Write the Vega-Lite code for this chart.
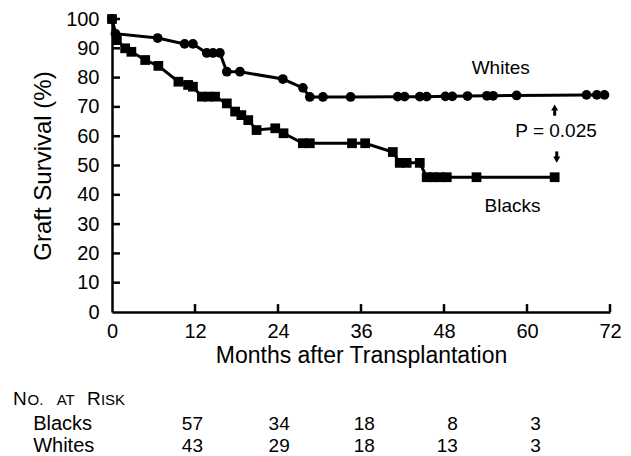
{
  "$schema": "https://vega.github.io/schema/vega-lite/v6.json",
  "width": 498,
  "height": 293,
  "autosize": "none",
  "padding": {"left": 112, "top": 19, "right": 21, "bottom": 144},
  "background": "white",
  "config": {
    "view": {"stroke": null},
    "font": "Liberation Sans",
    "text": {"font": "Liberation Sans", "color": "black"},
    "axis": {"labelOverlap": false, "labelFlush": false, "grid": false}
  },
  "datasets": {
    "km": [
      {"group": "Whites", "month": 0, "surv": 100},
      {"group": "Whites", "month": 0.5, "surv": 95},
      {"group": "Whites", "month": 6.6, "surv": 93.5},
      {"group": "Whites", "month": 10.5, "surv": 91.5},
      {"group": "Whites", "month": 11.7, "surv": 91.5},
      {"group": "Whites", "month": 13.7, "surv": 88.4},
      {"group": "Whites", "month": 14.6, "surv": 88.4},
      {"group": "Whites", "month": 15.6, "surv": 88.4},
      {"group": "Whites", "month": 16.6, "surv": 82},
      {"group": "Whites", "month": 18.5, "surv": 82},
      {"group": "Whites", "month": 24.7, "surv": 79.5},
      {"group": "Whites", "month": 27.6, "surv": 76.5},
      {"group": "Whites", "month": 28.6, "surv": 73.4},
      {"group": "Whites", "month": 30.5, "surv": 73.4},
      {"group": "Whites", "month": 34.5, "surv": 73.4},
      {"group": "Whites", "month": 41.3, "surv": 73.5},
      {"group": "Whites", "month": 42.3, "surv": 73.5},
      {"group": "Whites", "month": 44.5, "surv": 73.5},
      {"group": "Whites", "month": 45.5, "surv": 73.5},
      {"group": "Whites", "month": 48.2, "surv": 73.6},
      {"group": "Whites", "month": 49.2, "surv": 73.6},
      {"group": "Whites", "month": 51.4, "surv": 73.7},
      {"group": "Whites", "month": 54.2, "surv": 73.8},
      {"group": "Whites", "month": 55.1, "surv": 73.8},
      {"group": "Whites", "month": 58.5, "surv": 73.9},
      {"group": "Whites", "month": 68.6, "surv": 74.1},
      {"group": "Whites", "month": 70.1, "surv": 74.1},
      {"group": "Whites", "month": 71.2, "surv": 74.1},
      {"group": "Blacks", "month": 0, "surv": 100},
      {"group": "Blacks", "month": 0.7, "surv": 92.8},
      {"group": "Blacks", "month": 1.9, "surv": 90},
      {"group": "Blacks", "month": 2.8, "surv": 88.8},
      {"group": "Blacks", "month": 4.8, "surv": 86},
      {"group": "Blacks", "month": 6.7, "surv": 84},
      {"group": "Blacks", "month": 9.6, "surv": 78.6},
      {"group": "Blacks", "month": 11.0, "surv": 77.5},
      {"group": "Blacks", "month": 11.7, "surv": 76.9},
      {"group": "Blacks", "month": 13.0, "surv": 73.5},
      {"group": "Blacks", "month": 13.9, "surv": 73.5},
      {"group": "Blacks", "month": 14.9, "surv": 73.5},
      {"group": "Blacks", "month": 16.6, "surv": 71.2},
      {"group": "Blacks", "month": 17.8, "surv": 68.4},
      {"group": "Blacks", "month": 18.7, "surv": 67.2},
      {"group": "Blacks", "month": 19.7, "surv": 65.5},
      {"group": "Blacks", "month": 20.9, "surv": 62.1},
      {"group": "Blacks", "month": 23.6, "surv": 62.7},
      {"group": "Blacks", "month": 24.8, "surv": 61},
      {"group": "Blacks", "month": 27.6, "surv": 57.6},
      {"group": "Blacks", "month": 28.6, "surv": 57.6},
      {"group": "Blacks", "month": 34.7, "surv": 57.6},
      {"group": "Blacks", "month": 36.6, "surv": 57.6},
      {"group": "Blacks", "month": 40.6, "surv": 54.6},
      {"group": "Blacks", "month": 41.6, "surv": 50.9},
      {"group": "Blacks", "month": 42.6, "surv": 50.9},
      {"group": "Blacks", "month": 44.5, "surv": 50.9},
      {"group": "Blacks", "month": 45.5, "surv": 46},
      {"group": "Blacks", "month": 46.4, "surv": 46},
      {"group": "Blacks", "month": 47.4, "surv": 46},
      {"group": "Blacks", "month": 48.4, "surv": 46},
      {"group": "Blacks", "month": 52.7, "surv": 46},
      {"group": "Blacks", "month": 64.0, "surv": 46}
    ],
    "xticks": [
      {"month": 12, "surv": 0, "surv2": 2.7},
      {"month": 24, "surv": 0, "surv2": 2.7},
      {"month": 36, "surv": 0, "surv2": 2.7},
      {"month": 48, "surv": 0, "surv2": 2.7},
      {"month": 60, "surv": 0, "surv2": 2.7},
      {"month": 72, "surv": 0, "surv2": 2.7}
    ],
    "yticks": [
      {"month": 0, "month2": 1.15, "surv": 10},
      {"month": 0, "month2": 1.15, "surv": 20},
      {"month": 0, "month2": 1.15, "surv": 30},
      {"month": 0, "month2": 1.15, "surv": 40},
      {"month": 0, "month2": 1.15, "surv": 50},
      {"month": 0, "month2": 1.15, "surv": 60},
      {"month": 0, "month2": 1.15, "surv": 70},
      {"month": 0, "month2": 1.15, "surv": 80},
      {"month": 0, "month2": 1.15, "surv": 90},
      {"month": 0, "month2": 1.15, "surv": 100}
    ],
    "labels": [
      {"text": "Whites", "month": 56.2, "surv": 81.2},
      {"text": "Blacks", "month": 57.9, "surv": 34.2},
      {"text": "P = 0.025", "month": 64.2, "surv": 59.6}
    ],
    "shafts": [
      {"month": 64.0, "surv": 67.0, "surv2": 69.0},
      {"month": 64.3, "surv": 54.8, "surv2": 52.8}
    ],
    "headsUp": [{"month": 64.0, "surv": 69.8}],
    "headsDown": [{"month": 64.3, "surv": 52.0}],
    "riskBig": [
      {"text": "N", "month": -14.3, "surv": -31.7},
      {"text": "R", "month": -3.6, "surv": -31.7}
    ],
    "riskSmall": [
      {"text": "O.", "month": -12.2, "surv": -31.7},
      {"text": "AT", "month": -8.0, "surv": -31.7},
      {"text": "ISK", "month": -1.6, "surv": -31.7}
    ],
    "riskRows": [
      {"text": "Blacks", "month": -11.4, "surv": -40.3},
      {"text": "Whites", "month": -11.4, "surv": -47.8}
    ],
    "riskNums": [
      {"text": "57", "month": 13.15, "surv": -40.3},
      {"text": "34", "month": 25.7, "surv": -40.3},
      {"text": "18", "month": 38.0, "surv": -40.3},
      {"text": "8", "month": 50.0, "surv": -40.3},
      {"text": "3", "month": 62.0, "surv": -40.3},
      {"text": "43", "month": 13.15, "surv": -47.8},
      {"text": "29", "month": 25.7, "surv": -47.8},
      {"text": "18", "month": 38.0, "surv": -47.8},
      {"text": "13", "month": 50.0, "surv": -47.8},
      {"text": "3", "month": 62.0, "surv": -47.8}
    ]
  },
  "encoding": {
    "x": {
      "field": "month", "type": "quantitative",
      "scale": {"domain": [0, 72], "nice": false, "zero": false},
      "axis": {
        "values": [0, 12, 24, 36, 48, 60, 72],
        "title": "Months after Transplantation",
        "titleFontSize": 23, "titleFontWeight": "normal", "titleColor": "black",
        "titleFont": "Liberation Sans", "titlePadding": 3,
        "labelFontSize": 20, "labelColor": "black", "labelFont": "Liberation Sans",
        "labelPadding": 9, "labelFlush": false, "labelOverlap": false,
        "ticks": false,
        "domainColor": "black", "domainWidth": 2.5, "grid": false
      }
    },
    "y": {
      "field": "surv", "type": "quantitative",
      "scale": {"domain": [0, 100], "nice": false, "zero": false},
      "axis": {
        "values": [0, 10, 20, 30, 40, 50, 60, 70, 80, 90, 100],
        "title": "Graft Survival (%)",
        "titleFontSize": 24, "titleFontWeight": "normal", "titleColor": "black",
        "titleFont": "Liberation Sans", "titlePadding": 10,
        "labelFontSize": 20, "labelColor": "black", "labelFont": "Liberation Sans",
        "labelPadding": 13, "labelFlush": false, "labelOverlap": false,
        "ticks": false,
        "domainColor": "black", "domainWidth": 2.5, "grid": false
      }
    }
  },
  "layer": [
    {
      "data": {"name": "xticks"},
      "mark": {"type": "rule", "color": "black", "strokeWidth": 2.5},
      "encoding": {"y2": {"field": "surv2"}}
    },
    {
      "data": {"name": "yticks"},
      "mark": {"type": "rule", "color": "black", "strokeWidth": 2.5},
      "encoding": {"x2": {"field": "month2"}}
    },
    {
      "data": {"name": "km"},
      "mark": {"type": "line", "color": "black", "strokeWidth": 3, "clip": false},
      "encoding": {"detail": {"field": "group", "type": "nominal"}}
    },
    {
      "data": {"name": "km"},
      "mark": {"type": "point", "filled": true, "color": "black", "opacity": 1, "size": 95, "clip": false},
      "encoding": {
        "shape": {
          "field": "group", "type": "nominal",
          "scale": {"domain": ["Whites", "Blacks"], "range": ["circle", "square"]},
          "legend": null
        }
      }
    },
    {
      "data": {"name": "labels"},
      "mark": {"type": "text", "fontSize": 19, "align": "center", "baseline": "alphabetic"},
      "encoding": {"text": {"field": "text"}}
    },
    {
      "data": {"name": "shafts"},
      "mark": {"type": "rule", "color": "black", "strokeWidth": 3},
      "encoding": {"y2": {"field": "surv2"}}
    },
    {
      "data": {"name": "headsUp"},
      "mark": {"type": "point", "shape": "triangle-up", "filled": true, "color": "black", "opacity": 1, "size": 50},
      "encoding": {}
    },
    {
      "data": {"name": "headsDown"},
      "mark": {"type": "point", "shape": "triangle-down", "filled": true, "color": "black", "opacity": 1, "size": 50},
      "encoding": {}
    },
    {
      "data": {"name": "riskBig"},
      "mark": {"type": "text", "fontSize": 19, "align": "left", "baseline": "alphabetic", "clip": false},
      "encoding": {"text": {"field": "text"}}
    },
    {
      "data": {"name": "riskSmall"},
      "mark": {"type": "text", "fontSize": 15, "align": "left", "baseline": "alphabetic", "clip": false},
      "encoding": {"text": {"field": "text"}}
    },
    {
      "data": {"name": "riskRows"},
      "mark": {"type": "text", "fontSize": 20, "align": "left", "baseline": "alphabetic", "clip": false},
      "encoding": {"text": {"field": "text"}}
    },
    {
      "data": {"name": "riskNums"},
      "mark": {"type": "text", "fontSize": 19, "align": "right", "baseline": "alphabetic", "clip": false},
      "encoding": {"text": {"field": "text"}}
    }
  ]
}
